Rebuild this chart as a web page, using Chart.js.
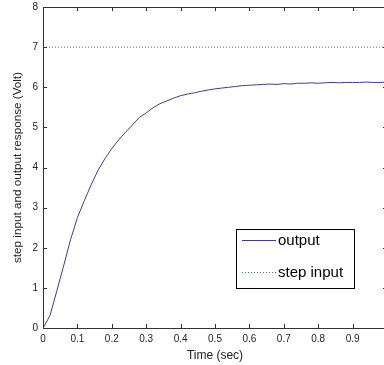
<!DOCTYPE html>
<html>
<head>
<meta charset="utf-8">
<script src="https://cdn.jsdelivr.net/npm/chart.js@4/dist/chart.umd.min.js"></script>
<style>
  html, body { margin: 0; padding: 0; background: #fff; overflow: hidden; }
  #wrap { width: 384px; height: 365px; overflow: hidden; }
</style>
</head>
<body>
<div id="wrap"><canvas id="stepChart" width="390" height="365"></canvas></div>
<script>
const timeSec = [0, 0.02, 0.04, 0.06, 0.08, 0.10, 0.12, 0.14, 0.16, 0.18, 0.20,
  0.22, 0.24, 0.26, 0.28, 0.30, 0.32, 0.34, 0.36, 0.38, 0.40,
  0.42, 0.44, 0.46, 0.48, 0.50, 0.52, 0.54, 0.56, 0.58, 0.60,
  0.62, 0.64, 0.66, 0.68, 0.70, 0.72, 0.74, 0.76, 0.78, 0.80,
  0.82, 0.84, 0.86, 0.88, 0.90, 0.92, 0.94, 0.96, 0.98, 1.00];
const outputVolt = [0, 0.30, 0.92, 1.55, 2.20, 2.75, 3.17, 3.57, 3.93, 4.22, 4.47,
  4.69, 4.88, 5.06, 5.25, 5.36, 5.49, 5.59, 5.66, 5.73, 5.79,
  5.83, 5.86, 5.90, 5.93, 5.96, 5.98, 6.00, 6.02, 6.04, 6.05,
  6.06, 6.07, 6.08, 6.07, 6.09, 6.08, 6.10, 6.10, 6.11, 6.10,
  6.11, 6.12, 6.11, 6.12, 6.12, 6.12, 6.13, 6.12, 6.12, 6.13];
const stepTime = [0, 1];
const stepVolt = [7, 7];

const seriesNames = ['output', 'step input'];
const outputColor = '#3c3c96';
const stepColor = '#3f7f3f';
const fontFamily = '"Liberation Sans", Arial, sans-serif';

function toPoints(xs, ys) {
  return xs.map((x, i) => ({ x: x, y: ys[i] }));
}

// inward tick marks on all four sides, like a matlab box
const boxTicks = {
  id: 'boxTicks',
  afterDraw(chart) {
    const ctx = chart.ctx;
    const a = chart.chartArea;
    const xs = chart.scales.x, ys = chart.scales.y;
    ctx.save();
    ctx.strokeStyle = '#333';
    ctx.lineWidth = 1;
    ctx.beginPath();
    // top and right frame
    ctx.moveTo(a.left, a.top + 0.5);
    ctx.lineTo(a.right, a.top + 0.5);
    ctx.moveTo(a.right - 0.5, a.top);
    ctx.lineTo(a.right - 0.5, a.bottom);
    xs.ticks.forEach(t => {
      const px = Math.round(xs.getPixelForValue(t.value)) + 0.5;
      ctx.moveTo(px, a.bottom); ctx.lineTo(px, a.bottom - 4);
      ctx.moveTo(px, a.top); ctx.lineTo(px, a.top + 4);
    });
    ys.ticks.forEach(t => {
      const py = Math.round(ys.getPixelForValue(t.value)) + 0.5;
      ctx.moveTo(a.left, py); ctx.lineTo(a.left + 4, py);
      ctx.moveTo(a.right, py); ctx.lineTo(a.right - 4, py);
    });
    ctx.stroke();

    // legend box inside the plot
    const bx = 236.5, by = 229.5, bw = 118, bh = 59;
    ctx.fillStyle = '#fff';
    ctx.fillRect(bx, by, bw, bh);
    ctx.strokeStyle = '#000';
    ctx.strokeRect(bx, by, bw, bh);
    ctx.font = '15px ' + fontFamily;
    ctx.textBaseline = 'middle';
    ctx.fillStyle = '#000';
    const rows = [240, 272];
    seriesNames.forEach((name, i) => {
      ctx.beginPath();
      ctx.strokeStyle = i === 0 ? outputColor : stepColor;
      ctx.setLineDash(i === 0 ? [] : [1, 2]);
      ctx.moveTo(242, rows[i] + 0.5);
      ctx.lineTo(276, rows[i] + 0.5);
      ctx.stroke();
      ctx.setLineDash([]);
      ctx.fillText(name, 278, rows[i] + 1);
    });
    ctx.restore();
  }
};

const ctx = document.getElementById('stepChart').getContext('2d');
new Chart(ctx, {
  type: 'line',
  data: {
    datasets: [{
      label: seriesNames[0],
      data: toPoints(timeSec, outputVolt),
      borderColor: outputColor,
      borderWidth: 1,
      pointRadius: 0,
      tension: 0,
      fill: false
    }, {
      label: seriesNames[1],
      data: toPoints(stepTime, stepVolt),
      borderColor: stepColor,
      borderWidth: 1,
      borderDash: [1, 2],
      pointRadius: 0,
      fill: false
    }]
  },
  options: {
    responsive: false,
    animation: false,
    layout: { padding: { top: 7, right: 3, left: 0, bottom: 0 } },
    plugins: {
      legend: { display: false },
      tooltip: { enabled: false }
    },
    scales: {
      x: {
        type: 'linear',
        min: 0,
        max: 1,
        grid: { display: false, drawTicks: false },
        border: { display: true, color: '#333', width: 1 },
        ticks: {
          stepSize: 0.1,
          padding: 5,
          color: '#222',
          maxRotation: 0,
          autoSkip: false,
          font: { family: fontFamily, size: 10 },
          callback: v => String(Math.round(v * 10) / 10)
        },
        title: {
          display: true,
          text: 'Time (sec)',
          color: '#222',
          padding: { top: 0, bottom: 2 },
          font: { family: fontFamily, size: 12 }
        },
        afterFit: s => { s.height = 37; s.paddingLeft = 0; s.paddingRight = 0; }
      },
      y: {
        min: 0,
        max: 8,
        grid: { display: false, drawTicks: false },
        border: { display: true, color: '#333', width: 1 },
        ticks: {
          stepSize: 1,
          padding: 5,
          color: '#222',
          font: { family: fontFamily, size: 10 }
        },
        title: {
          display: true,
          text: 'step input and output response (Volt)',
          color: '#222',
          padding: { top: 11, bottom: 0 },
          font: { family: fontFamily, size: 11.7 }
        },
        afterFit: s => { s.width = 43; s.paddingTop = 0; s.paddingBottom = 0; }
      }
    }
  },
  plugins: [boxTicks]
});
</script>
</body>
</html>
